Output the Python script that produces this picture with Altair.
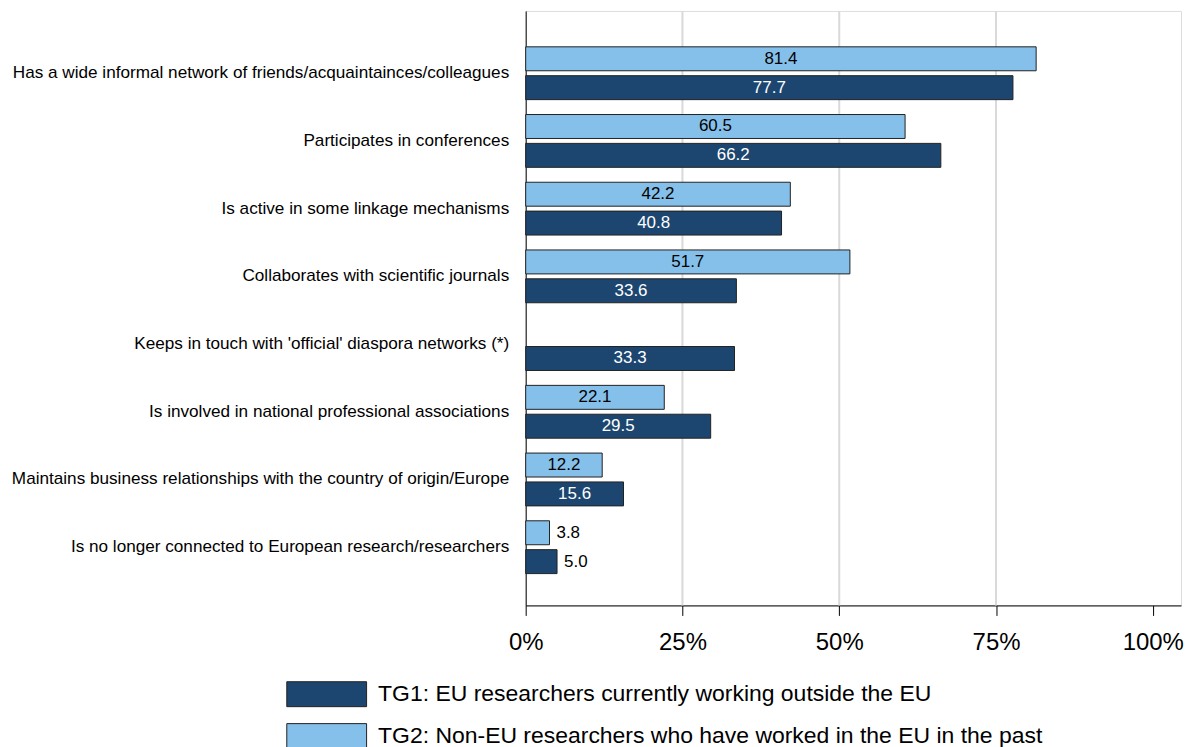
import altair as alt
import pandas as pd

CATEGORIES = [
    "Has a wide informal network of friends/acquaintainces/colleagues",
    "Participates in conferences",
    "Is active in some linkage mechanisms",
    "Collaborates with scientific journals",
    "Keeps in touch with 'official' diaspora networks (*)",
    "Is involved in national professional associations",
    "Maintains business relationships with the country of origin/Europe",
    "Is no longer connected to European research/researchers",
]
TG1_VALUES = [77.7, 66.2, 40.8, 33.6, 33.3, 29.5, 15.6, 5.0]
TG2_VALUES = [81.4, 60.5, 42.2, 51.7, None, 22.1, 12.2, 3.8]
SERIES = [
    "TG1: EU researchers currently working outside the EU",
    "TG2: Non-EU researchers who have worked in the EU in the past",
]
COLORS = ["#1c4670", "#85c0ea"]
X_TICKS = [0, 25, 50, 75, 100]
GRID_TICKS = [25, 50, 75]

rows = []
for cat, v1, v2 in zip(CATEGORIES, TG1_VALUES, TG2_VALUES):
    rows.append({"category": cat, "series": SERIES[0], "value": v1})
    if v2 is not None:
        rows.append({"category": cat, "series": SERIES[1], "value": v2})
df = pd.DataFrame(rows)
grid_df = pd.DataFrame({"x": GRID_TICKS})

FONT = "Liberation Sans"

x_scale = alt.Scale(domain=[0, 104.5], nice=False, zero=True)
x_axis = alt.Axis(
    values=X_TICKS,
    labelExpr="datum.value + '%'",
    title=None,
    grid=False,
    ticks=True,
    tickColor="black",
    tickSize=10,
    domainColor="black",
    labelFontSize=24,
    labelFont=FONT,
    labelColor="black",
    labelPadding=15,
    labelFlush=False,
)
y_enc = alt.Y(
    "category:N",
    sort=CATEGORIES,
    scale=alt.Scale(paddingInner=0.22, paddingOuter=0.5, align=0.53),
    axis=alt.Axis(
        title=None,
        ticks=False,
        labelFontSize=17.2,
        labelFont=FONT,
        labelPadding=17,
        labelColor="black",
        domainColor="black",
        labelLimit=0,
        grid=False,
    ),
)
yoff = alt.YOffset("series:N", sort=[SERIES[1], SERIES[0]], scale=alt.Scale(paddingInner=0.17))

grid = alt.Chart(grid_df).mark_rule(color="#d9d9d9", strokeWidth=2).encode(
    x=alt.X("x:Q", scale=x_scale, axis=x_axis)
)

bars = alt.Chart(df).mark_bar(stroke="#222222", strokeWidth=1).encode(
    x=alt.X("value:Q", scale=x_scale, axis=x_axis),
    y=y_enc,
    yOffset=yoff,
    color=alt.Color(
        "series:N",
        scale=alt.Scale(domain=SERIES, range=COLORS),
        legend=alt.Legend(
            title=None,
            orient="none",
            legendX=-212.5,
            legendY=672,
            direction="vertical",
            symbolType="M-3.2,-1H3.2V1H-3.2Z",
            symbolSize=625,
            symbolStrokeColor="#222222",
            symbolStrokeWidth=1,
            symbolOpacity=1,
            labelFontSize=23,
            labelFont=FONT,
            labelColor="black",
            labelOffset=38.5,
            labelLimit=0,
            rowPadding=12,
        ),
    ),
)

inside = (
    alt.Chart(df)
    .transform_filter("datum.value >= 10")
    .transform_calculate(mid="datum.value / 2")
    .mark_text(fontSize=17, font=FONT)
    .encode(
        x=alt.X("mid:Q", scale=x_scale, axis=x_axis),
        y=y_enc,
        yOffset=yoff,
        text=alt.Text("value:Q", format=".1f"),
        color=alt.condition(
            f"datum.series == '{SERIES[0]}'", alt.value("white"), alt.value("black")
        ),
    )
)

outside = (
    alt.Chart(df)
    .transform_filter("datum.value < 10")
    .mark_text(fontSize=17, font=FONT, align="left", dx=7, color="black")
    .encode(
        x=alt.X("value:Q", scale=x_scale, axis=x_axis),
        y=y_enc,
        yOffset=yoff,
        text=alt.Text("value:Q", format=".1f"),
    )
)

chart = (
    alt.layer(grid, bars, inside, outside)
    .properties(
        width=657,
        height=596,
        autosize=alt.AutoSizeParams(type="none"),
        padding={"left": 519, "top": 2, "right": 5, "bottom": 141},
    )
    .configure_view(stroke=None)
    .configure(background="white")
)

chart.save("out.html", embed_options={"renderer": "svg", "actions": False})
